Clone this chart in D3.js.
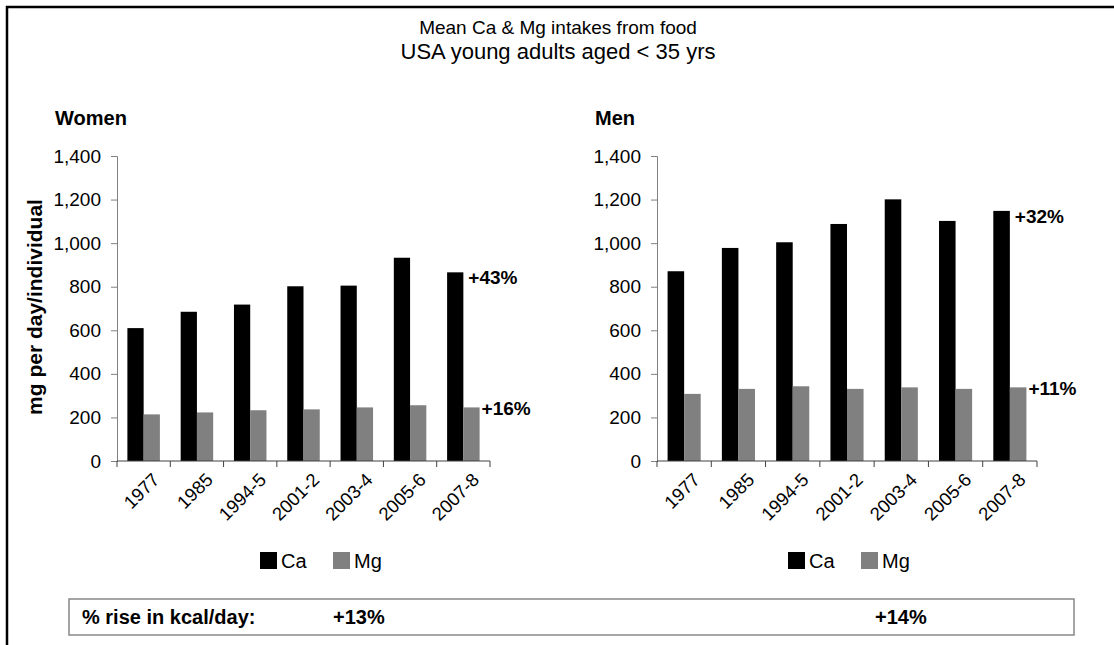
<!DOCTYPE html>
<html>
<head>
<meta charset="utf-8">
<script src="https://cdn.jsdelivr.net/npm/d3@7"></script>
<style>
  body { margin: 0; background: #fff; }
  text { font-family: "Liberation Sans", Arial, sans-serif; }
</style>
</head>
<body>
<svg id="Plots" width="1114" height="645"></svg>
<script>
// values
var periods = ["1977", "1985", "1994-5", "2001-2", "2003-4", "2005-6", "2007-8"];
var womenCa = [610, 685, 718, 802, 805, 933, 866];
var womenMg = [214, 223, 233, 237, 246, 256, 246];
var menCa = [871, 978, 1004, 1088, 1201, 1102, 1148];
var menMg = [308, 331, 343, 331, 338, 331, 338];
var seriesNames = ["Ca", "Mg"];
var yTicks = [0, 200, 400, 600, 800, 1000, 1200, 1400];
var caRise = ["+43%", "+32%"];
var mgRise = ["+16%", "+11%"];
var kcalRise = ["+13%", "+14%"];

var svg = d3.select("#Plots");
var color = d3.scaleOrdinal().domain(seriesNames).range(["#000000", "#808080"]);

// outer frame (top + left only)
svg.append("path")
    .attr("d", "M7,645V7H1114")
    .attr("fill", "none")
    .attr("stroke", "#000")
    .attr("stroke-width", 2.5);

svg.append("text")
    .attr("x", 558).attr("y", 34)
    .attr("text-anchor", "middle")
    .attr("font-size", 19)
    .text("Mean Ca & Mg intakes from food");
svg.append("text")
    .attr("x", 558).attr("y", 59)
    .attr("text-anchor", "middle")
    .attr("font-size", 22)
    .text("USA young adults aged < 35 yrs");

function draw_panel(name, ca, mg, left, right, legendX, idx) {
    var data = periods.map(function(p, i) { return {period: p, Ca: ca[i], Mg: mg[i]}; });
    var g = svg.append("g");

    var yscale = d3.scaleLinear().domain([0, 1400]).range([461, 156]);
    var x0 = d3.scaleBand().domain(periods).range([left, right])
        .paddingInner(0.39).paddingOuter(0.195);
    var x1 = d3.scaleBand().domain(seriesNames).range([0, x0.bandwidth()]);

    g.append("text")
        .attr("x", left - 62).attr("y", 125)
        .attr("font-size", 20)
        .attr("font-weight", "bold")
        .text(name);

    // bars
    g.append("g")
        .selectAll("g")
        .data(data)
        .enter().append("g")
        .attr("transform", function(d) { return "translate(" + x0(d.period) + ",0)"; })
        .selectAll("rect")
        .data(function(d) { return seriesNames.map(function(k) { return {key: k, value: d[k]}; }); })
        .enter().append("rect")
        .attr("x", function(d) { return x1(d.key); })
        .attr("y", function(d) { return yscale(d.value); })
        .attr("width", x1.bandwidth())
        .attr("height", function(d) { return yscale(0) - yscale(d.value); })
        .attr("fill", function(d) { return color(d.key); });

    // y axis
    var yAxis = g.append("g")
        .attr("transform", "translate(" + left + ",0)")
        .call(d3.axisLeft(yscale).tickValues(yTicks).tickSize(6).tickPadding(10).tickFormat(d3.format(",")));
    yAxis.select(".domain").attr("stroke", "#808080");
    yAxis.selectAll(".tick line").attr("stroke", "#808080");
    yAxis.selectAll(".tick text")
        .attr("font-size", 19)
        .attr("font-family", "'Liberation Sans', Arial, sans-serif")
        .attr("fill", "#000");

    // x axis, ticks between categories
    var bounds = d3.range(periods.length + 1).map(function(i) { return left + i * x0.step(); });
    var xAxis = g.append("g");
    xAxis.append("line")
        .attr("x1", left).attr("x2", right)
        .attr("y1", yscale(0)).attr("y2", yscale(0))
        .attr("stroke", "#404040");
    xAxis.selectAll(".xt")
        .data(bounds)
        .enter().append("line")
        .attr("class", "xt")
        .attr("x1", function(d) { return d; }).attr("x2", function(d) { return d; })
        .attr("y1", yscale(0)).attr("y2", yscale(0) + 6)
        .attr("stroke", "#404040");
    xAxis.selectAll(".xl")
        .data(periods)
        .enter().append("text")
        .attr("class", "xl")
        .attr("font-size", 18.5)
        .attr("text-anchor", "end")
        .attr("transform", function(d) {
            return "translate(" + (x0(d) + x0.bandwidth() / 2 + 17) + "," + (yscale(0) + 20) + ") rotate(-45)";
        })
        .text(function(d) { return d; });

    // % rise labels at the last bars
    var last = data[data.length - 1];
    g.append("text")
        .attr("x", x0(last.period) + x1("Ca") + x1.bandwidth() + 5)
        .attr("y", yscale(last.Ca) + 12)
        .attr("font-size", 19).attr("font-weight", "bold")
        .text(caRise[idx]);
    g.append("text")
        .attr("x", x0(last.period) + x1("Mg") + x1.bandwidth() + 2)
        .attr("y", yscale(last.Mg) + 8)
        .attr("font-size", 19).attr("font-weight", "bold")
        .text(mgRise[idx]);

    // legend
    var legend = g.append("g")
        .selectAll("g")
        .data(seriesNames)
        .enter().append("g")
        .attr("transform", function(d, i) { return "translate(" + (legendX + i * 73) + ",552)"; });
    legend.append("rect")
        .attr("width", 17).attr("height", 17)
        .attr("fill", color);
    legend.append("text")
        .attr("x", 21).attr("y", 16)
        .attr("font-size", 20)
        .text(function(d) { return d; });
}

draw_panel("Women", womenCa, womenMg, 117, 490, 260, 0);
draw_panel("Men", menCa, menMg, 657, 1037, 788, 1);

// y label
svg.append("text")
    .attr("transform", "translate(42,307) rotate(-90)")
    .attr("text-anchor", "middle")
    .attr("font-size", 21)
    .attr("font-weight", "bold")
    .text("mg per day/individual");

// kcal box
var box = svg.append("g");
box.append("rect")
    .attr("x", 69).attr("y", 599)
    .attr("width", 1005).attr("height", 36)
    .attr("fill", "#fff")
    .attr("stroke", "#888")
    .attr("stroke-width", 1.5);
box.append("text")
    .attr("x", 82).attr("y", 624)
    .attr("font-size", 20).attr("font-weight", "bold")
    .text("% rise in kcal/day:");
box.selectAll(".kc")
    .data(kcalRise)
    .enter().append("text")
    .attr("class", "kc")
    .attr("x", function(d, i) { return i === 0 ? 333 : 875; })
    .attr("y", 624)
    .attr("font-size", 20).attr("font-weight", "bold")
    .text(function(d) { return d; });
</script>
</body>
</html>
